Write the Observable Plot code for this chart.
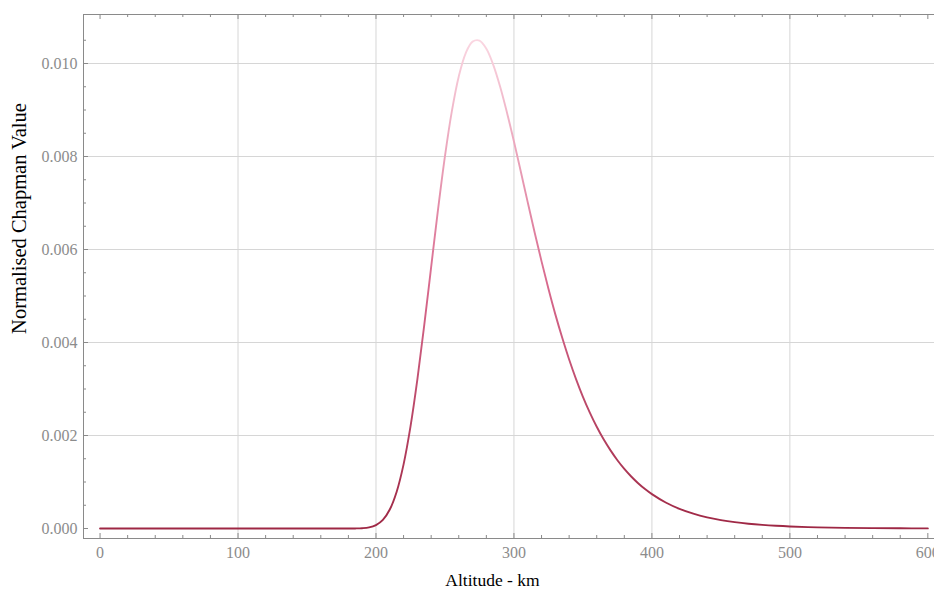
<!DOCTYPE html>
<html>
<head>
<meta charset="utf-8">
<script src="https://cdn.jsdelivr.net/npm/d3@7"></script>
<script src="https://cdn.jsdelivr.net/npm/@observablehq/plot@0.6"></script>
<style>
  html, body { margin: 0; padding: 0; background: white; overflow: hidden; }
  #chart svg { max-width: none !important; display: block; }
</style>
</head>
<body>
<div id="chart"></div>
<script>
// Altitude (km) and normalised Chapman value
const altitude = [0, 20, 40, 60, 80, 100, 120, 140, 160, 170, 180, 185, 190, 195, 200, 205, 210, 215, 220, 225, 230, 235, 240, 245, 250, 255, 260, 265, 270, 275, 280, 285, 290, 295, 300, 305, 310, 315, 320, 325, 330, 335, 340, 345, 350, 355, 360, 365, 370, 375, 380, 385, 390, 395, 400, 410, 420, 430, 440, 450, 460, 470, 480, 490, 500, 520, 540, 560, 580, 600];
const chapman = [0, 0, 0, 0, 0, 0, 0, 0, 0, 0, 0.0000003, 0.0000015, 0.0000068, 0.0000245, 0.000074, 0.000185, 0.000408, 0.000791, 0.001379, 0.00219, 0.003205, 0.004377, 0.005626, 0.006867, 0.008008, 0.008975, 0.009722, 0.01022, 0.01047, 0.010493, 0.010316, 0.009971, 0.009499, 0.008937, 0.008322, 0.007671, 0.007013, 0.006367, 0.005745, 0.005155, 0.004605, 0.004101, 0.003635, 0.003214, 0.002833, 0.002493, 0.002188, 0.001918, 0.00168, 0.001469, 0.001282, 0.001118, 0.000974, 0.000848, 0.000739, 0.000559, 0.000422, 0.000319, 0.00024, 0.000181, 0.000136, 0.000102, 0.000077, 0.0000578, 0.0000435, 0.0000246, 0.0000139, 0.0000079, 0.0000044, 0.0000025];

const xTicks = [0, 100, 200, 300, 400, 500, 600];
const xGrid = [100, 200, 300, 400, 500];
const xMinor = [20, 40, 60, 80, 120, 140, 160, 180, 220, 240, 260, 280, 320, 340, 360, 380, 420, 440, 460, 480, 520, 540, 560, 580];
const yTicks = [0, 0.002, 0.004, 0.006, 0.008, 0.010];
const yGrid = [0.002, 0.004, 0.006, 0.008, 0.010];
const yMinor = [0.0005, 0.001, 0.0015, 0.0025, 0.003, 0.0035, 0.0045, 0.005, 0.0055, 0.0065, 0.007, 0.0075, 0.0085, 0.009, 0.0095, 0.0105];
const xLabel = "Altitude - km";
const yLabel = "Normalised Chapman Value";
// line colour: dark crimson at low values to pale pink at the peak
const gradStops = [[0, "#9e2744"], [0.5, "#d8698d"], [1, "#fad6e1"]];

const data = altitude.map((a, i) => ({altitude: a, value: chapman[i]}));

const W = 940, H = 593, mL = 83, mR = 3, mT = 14, mB = 55;
const frameW = W - mL - mR, frameH = H - mT - mB;
const tickColor = "#8a8a8a";

function gradientDefs() {
  const defs = d3.create("svg:defs");
  const g = defs.append("linearGradient")
    .attr("id", "chapmanGrad")
    .attr("gradientUnits", "objectBoundingBox")
    .attr("x1", 0).attr("y1", 1).attr("x2", 0).attr("y2", 0);
  for (const [o, c] of gradStops) g.append("stop").attr("offset", o).attr("stop-color", c);
  return defs.node();
}

const chart = Plot.plot({
  width: W,
  height: H,
  marginLeft: mL,
  marginRight: mR,
  marginTop: mT,
  marginBottom: mB,
  x: {domain: [-12, 607]},
  y: {domain: [-0.000215, 0.011054]},
  style: {fontFamily: "'Liberation Serif', serif", background: "white", maxWidth: "none", overflow: "visible"},
  marks: [
    gradientDefs,
    Plot.gridX(xGrid, {stroke: "#d6d6d6", strokeOpacity: 1}),
    Plot.gridY(yGrid, {stroke: "#d6d6d6", strokeOpacity: 1}),
    Plot.frame({stroke: tickColor}),
    Plot.tickX(xTicks, {x: d => d, insetTop: frameH - 5, stroke: tickColor}),
    Plot.tickX(xMinor, {x: d => d, insetTop: frameH - 3, stroke: tickColor}),
    Plot.tickX(xTicks, {x: d => d, insetBottom: frameH - 5, stroke: tickColor}),
    Plot.tickX(xMinor, {x: d => d, insetBottom: frameH - 3, stroke: tickColor}),
    Plot.tickY(yTicks, {y: d => d, insetRight: frameW - 5, stroke: tickColor}),
    Plot.tickY(yMinor, {y: d => d, insetRight: frameW - 3, stroke: tickColor}),
    Plot.axisX(xTicks, {tickSize: 0, tickPadding: 8, tickFormat: d => String(d), label: null, color: "#8c8c8c", fontSize: 16}),
    Plot.axisY(yTicks, {tickSize: 0, tickPadding: 6, tickFormat: d3.format(".3f"), label: null, color: "#8c8c8c", fontSize: 16}),
    Plot.line(data, {x: "altitude", y: "value", stroke: "url(#chapmanGrad)", strokeWidth: 1.9, curve: "catmull-rom"}),
    Plot.text([xLabel], {frameAnchor: "bottom", text: d => d, dx: -18, dy: 47, fontSize: 17.5, fill: "black"}),
    Plot.text([yLabel], {frameAnchor: "left", textAnchor: "middle", text: d => d, rotate: -90, dx: -64, dy: -58, fontSize: 20.5, fill: "black"})
  ]
});
document.getElementById("chart").appendChild(chart);
</script>
</body>
</html>
